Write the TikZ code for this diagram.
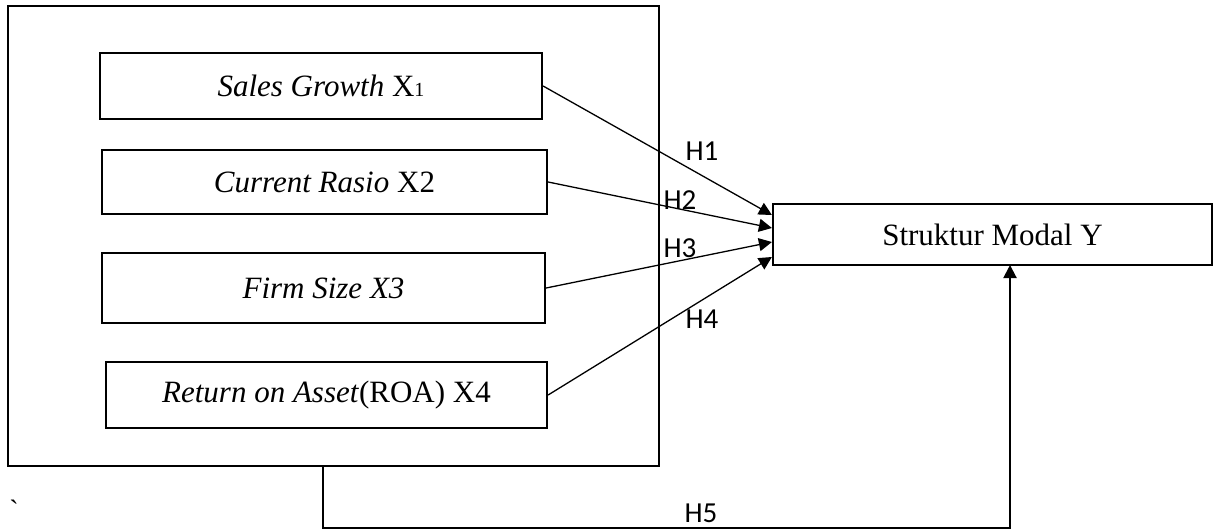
\documentclass[tikz,border=0pt]{standalone}
\usepackage{fontspec}
\setmainfont{Liberation Serif}
\newfontfamily\hfont{Carlito}
\usetikzlibrary{arrows.meta,calc}
\begin{document}
\begin{tikzpicture}[x=1pt,y=-1pt,
  varbox/.style={draw,line width=2.2pt,inner sep=0pt,font=\fontsize{31}{36}\selectfont},
  hlab/.style={inner sep=0pt,font=\hfont\fontsize{29}{32}\selectfont},
  conn/.style={line width=1.3pt,-{Triangle[length=13pt,width=13pt]}},
  frame/.style={draw,line width=2pt,inner sep=0pt}]
\useasboundingbox (0,0) rectangle (1214,530);
\node[frame,minimum width=651pt,minimum height=460pt] (outer) at (333.5,236) {};
\node[varbox,minimum width=442pt,minimum height=66pt] (x1) at (321,86) {\textit{Sales Growth} X{\fontsize{20}{20}\selectfont 1}};
\node[varbox,minimum width=445pt,minimum height=64pt] (x2) at (324.5,182) {\textit{Current Rasio} X2};
\node[varbox,minimum width=443pt,minimum height=70pt] (x3) at (323.5,288) {\textit{Firm Size X3}};
\node[varbox,minimum width=441pt,minimum height=66pt] (x4) at (326.5,395) {\textit{Return on Asset}(ROA) X4};
\node[varbox,minimum width=439pt,minimum height=61pt] (y) at (992.5,234.5) {Struktur Modal Y};
\draw[conn] (x1.east) -- ($(y.west)+(0,-19.5)$);
\draw[conn] (x2.east) -- ($(y.west)+(0,-6.5)$);
\draw[conn] (x3.east) -- ($(y.west)+(0,7.5)$);
\draw[conn] (x4.east) -- ($(y.west)+(0,22.5)$);
\node[hlab] (h1) at (702,151) {H1};
\node[hlab] (h2) at (680,200) {H2};
\node[hlab] (h3) at (680,248) {H3};
\node[hlab] (h4) at (702,319) {H4};
\node[hlab] (h5) at (701,513) {H5};
\coordinate (h5s) at (323,466);
\coordinate (h5b) at (0,528);
\coordinate (h5e) at (1010,265);
\draw[line width=2pt,-{Triangle[length=13pt,width=13pt]}] (h5s) -- (h5s |- h5b) -| (h5e);
\node[inner sep=0pt,font=\fontsize{28}{30}\selectfont] (tick) at (14,510) {\textasciigrave};
\end{tikzpicture}
\end{document}
